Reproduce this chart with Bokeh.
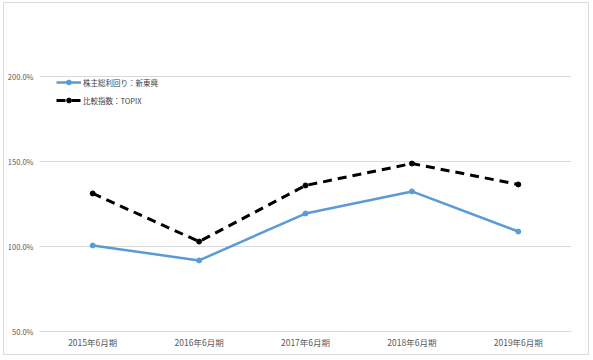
from bokeh.plotting import figure
from bokeh.models import FactorRange, Range1d, FixedTicker, PrintfTickFormatter, Legend, LegendItem
from bokeh.embed import file_html
from bokeh.resources import INLINE

categories = ["2015年6月期", "2016年6月期", "2017年6月期", "2018年6月期", "2019年6月期"]
tsr_company = [100.6, 91.8, 119.4, 132.4, 108.8]
tsr_topix = [131.2, 102.9, 135.9, 148.8, 136.5]
y_ticks = [50, 100, 150, 200]
label_company = "株主総利回り：新東興"
label_topix = "比較指数：TOPIX"

FONT = "Noto Sans CJK JP"

p = figure(width=586, height=353, output_backend="svg", toolbar_location=None,
           x_range=FactorRange(*categories), y_range=Range1d(50, 232.94),
           min_border_left=34, min_border_right=19, min_border_top=17, min_border_bottom=25)
p.styles = {"margin-left": "3px", "margin-top": "2px", "border": "1px solid #d9d9d9"}
p.outline_line_color = None
p.background_fill_color = "white"
p.border_fill_color = "white"

p.xgrid.grid_line_color = None
p.ygrid.grid_line_color = "#d9d9d9"
p.ygrid.grid_line_width = 1

p.yaxis.ticker = FixedTicker(ticks=y_ticks)
p.yaxis.formatter = PrintfTickFormatter(format="%.1f%%")
p.yaxis.axis_line_color = None
p.yaxis.major_tick_line_color = None
p.yaxis.minor_tick_line_color = None
p.yaxis.major_tick_out = 0
p.yaxis.major_tick_in = 0
p.yaxis.minor_tick_out = 0
p.yaxis.major_label_standoff = 6
p.yaxis.major_label_text_font = FONT
p.yaxis.major_label_text_font_size = "7.5px"
p.yaxis.major_label_text_color = "#595959"

p.xaxis.axis_line_color = "#d9d9d9"
p.xaxis.major_tick_line_color = None
p.xaxis.minor_tick_line_color = None
p.xaxis.major_tick_out = 0
p.xaxis.major_tick_in = 0
p.xaxis.major_label_standoff = 4
p.xaxis.major_label_text_font = FONT
p.xaxis.major_label_text_font_size = "8.5px"
p.xaxis.major_label_text_color = "#595959"

blue = "#5b9bd5"
l1 = p.line(categories, tsr_company, line_color=blue, line_width=2.5)
s1 = p.scatter(categories, tsr_company, size=5, fill_color=blue, line_color=blue)
l2 = p.line(categories, tsr_topix, line_color="black", line_width=3, line_dash="9 6")
s2 = p.scatter(categories, tsr_topix, size=5, fill_color="black", line_color="black")

legend = Legend(items=[LegendItem(label=label_company, renderers=[l1, s1]),
                       LegendItem(label=label_topix, renderers=[l2, s2])],
                location=(17, 225), orientation="vertical",
                glyph_width=25, glyph_height=12, label_height=12, spacing=6,
                padding=0, margin=0, label_standoff=2,
                label_text_font=FONT, label_text_font_size="7.5px", label_text_color="#404040",
                border_line_color=None, background_fill_alpha=0)
p.add_layout(legend)

open("out.html", "w").write(file_html(p, INLINE))
